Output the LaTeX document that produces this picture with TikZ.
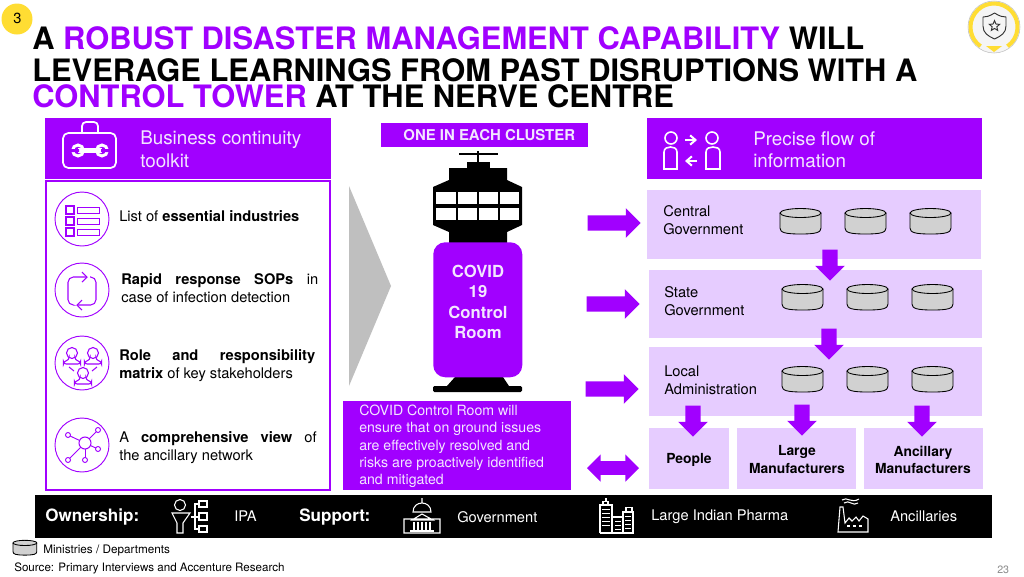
\documentclass[tikz,border=0pt]{standalone}
\usepackage{fontspec}
\setmainfont{TeX Gyre Heros}
\usepackage{tikz}
\usetikzlibrary{arrows.meta,shapes.arrows,shapes.geometric}
\definecolor{acn}{HTML}{A100FF}
\definecolor{acnlight}{HTML}{E6CCFF}
\definecolor{offwhite}{HTML}{F3E6FF}
\definecolor{badgeyellow}{HTML}{FFDD33}
\newcommand{\fsz}[2]{\fontsize{#1}{#2}\selectfont}
\tikzset{
  txt/.style={inner sep=0pt,anchor=base west,font=\fsz{11}{13.5}},
  ttl/.style={inner sep=0pt,anchor=base west,font=\fsz{23.15}{24}\bfseries},
  head/.style={inner sep=0pt,anchor=north west,align=left,text=offwhite,font=\fsz{14.1}{17.2}},
  justtxt/.style={inner sep=0pt,anchor=west,text width=147.75pt,align=justify,font=\fsz{11}{13.5}},
  panel/.style={fill=acnlight,anchor=north west,inner sep=0pt},
  sendbox/.style={fill=acnlight,anchor=north west,inner sep=0pt,align=center,font=\fsz{10.4}{12.8}\bfseries},
  rightblock/.style={single arrow,fill=acn,inner xsep=0pt,inner ysep=5.6pt,single arrow head extend=5.3pt,minimum height=39.75pt,anchor=tip},
  downblock/.style={rightblock,rotate=-90,minimum height=23.25pt},
  bothblock/.style={double arrow,fill=acn,inner xsep=0pt,inner ysep=4.9pt,double arrow head extend=5.2pt,minimum height=39pt},
  iconring/.style={draw=acn,line width=.7pt},
  iconline/.style={draw=acn,line width=.8pt},
  whiteline/.style={draw=white,line width=.8pt},
  dbcyl/.pic={
    \draw[fill=black!18,line width=.65pt] (0,5) -- (0,20) .. controls (0,24.5) and (5,26) .. (20.5,26) .. controls (36,26) and (41,24.5) .. (41,20) -- (41,5);
    \draw[fill=black!18,line width=.65pt] (20.5,5) ellipse [x radius=20.5,y radius=4.5];
  },
  ctrltower/.pic={
    \draw[line width=1.4pt] (459,154) -- (498,154) (478,151) -- (478,162);
    \fill (467,162) rectangle (490,168);
    \fill (449,168) -- (507,168) -- (507,180) -- (522,187) -- (522,225) -- (507,232) -- (507,243) -- (449,243) -- (449,232) -- (433,225) -- (433,187) -- (449,180) -- cycle;
    \foreach \xa/\xb in {436/456,457.5/477,479/498,500/519} {
      \fill[white] (\xa,192) rectangle (\xb,204);
      \fill[white] (\xa,208) rectangle (\xb,220);
    }
    \fill (455,377) -- (503,377) -- (509,386) -- (520,386) [rounded corners=1pt] -- (522,386) -- (522,392) -- (433,392) -- (433,386) [sharp corners] -- (447,386) -- cycle;
  },
  toolicon/.pic={
    \draw[white,line width=1.3pt,rounded corners=4pt] (63,133) rectangle (116,168);
    \draw[white,line width=1.3pt,rounded corners=3pt] (82,133) -- (82,122) -- (98,122) -- (98,133);
    \fill[white] (78,148) rectangle (102,153);
    \draw[white,line width=2.2pt] (78,150.5) circle [radius=5.5] (102,150.5) circle [radius=5.5];
    \fill[acn] (69,149) rectangle (79,152) (101,149) rectangle (111,152);
  },
  listicon/.pic={
    \foreach \yy in {206,217,228} {
      \draw[iconline] (66,\yy) rectangle (74,\yy+8);
      \draw[iconline,line width=.7pt] (77,\yy+1) rectangle (99,\yy+7);
    }
  },
  cycleicon/.pic={
    \draw[iconline,rounded corners=4pt] (86,277) -- (68,277) -- (68,305) -- (73,305);
    \draw[iconline,rounded corners=4pt] (78,305) -- (96,305) -- (96,277) -- (90,277);
    \draw[iconline] (82,272) -- (87,277) -- (82,282);
    \draw[iconline] (82,300) -- (77,305) -- (82,310);
  },
  peopleicon/.pic={
    \foreach \hx/\hy in {72/353,93/353,83/373} {
      \draw[iconline] (\hx,\hy) circle [radius=5.5];
      \draw[iconline,rounded corners=2pt] (\hx-3,\hy+5) -- (\hx-3,\hy+7) -- (\hx-8.5,\hy+8.5) -- (\hx-8.5,\hy+11) -- (\hx+8.5,\hy+11) -- (\hx+8.5,\hy+8.5) -- (\hx+3,\hy+7) -- (\hx+3,\hy+5);
    }
    \draw[iconline] (69,367) -- (74,371) (97,367) -- (92,371);
  },
  neticon/.pic={
    \foreach \nx/\ny in {68/435,98/430,98/449,85/460,68/460} {
      \draw[iconline,line width=.7pt] (85,443) -- (\nx,\ny);
      \draw[iconline,fill=white,line width=.7pt] (\nx,\ny) circle [radius=2.5];
    }
    \draw[iconline,fill=white] (85,443) circle [radius=6];
  },
  flowicon/.pic={
    \draw[white,line width=1.2pt] (671,138) circle [radius=6] (712,138) circle [radius=6];
    \draw[white,line width=1.2pt] (664,169) -- (664,152) .. controls (664,148) and (668,147) .. (670.5,147) .. controls (673,147) and (677,148) .. (677,152) -- (677,169) -- cycle;
    \draw[white,line width=1.2pt] (706,169) -- (706,152) .. controls (706,148) and (710,147) .. (713,147) .. controls (716,147) and (720,148) .. (720,152) -- (720,169) -- cycle;
    \draw[white,line width=1.5pt,-{Straight Barb[length=4pt,width=7pt]}] (685,140) -- (697,140);
    \draw[white,line width=1.5pt,-{Straight Barb[length=4pt,width=7pt]}] (697,161) -- (685,161);
  },
  orgicon/.pic={
    \draw[whiteline] (180,505) circle [radius=5.5];
    \draw[whiteline] (172,513) -- (190,513) -- (183,523) -- (183,533) -- (177,533) -- (177,523) -- cycle;
    \draw[whiteline] (199,501) rectangle (207,507) (199,513) rectangle (207,520) (199,526) rectangle (207,532);
    \draw[whiteline] (199,504) -- (195,504) -- (195,529) -- (199,529) (191,517) -- (199,517);
  },
  domeicon/.pic={
    \draw[whiteline] (422,498) -- (422,503) (413,512) .. controls (413,500) and (431,500) .. (431,512) -- cycle;
    \draw[whiteline] (404,519) rectangle (440,533) (412,520) -- (422,514) -- (433,520) -- cycle;
    \foreach \cx in {414,418,422,426,430} \draw[whiteline] (\cx,522) -- (\cx,530);
    \draw[whiteline] (410,531) -- (434,531);
  },
  bldgicon/.pic={
    \draw[whiteline] (600,533) -- (600,505) -- (612,505) -- (612,533) (603,505) -- (603,501.5) -- (608,501.5) -- (608,505) (606,501) -- (606,498);
    \draw[whiteline] (612,517) -- (623,517) (623,533) -- (623,512) -- (633,512) -- (633,533) -- cycle (626,512) -- (626,507.5) -- (632,507.5) -- (632,512);
    \foreach \wy in {509,513,517,521,525} \draw[whiteline,line width=.6pt] (602,\wy) -- (610,\wy);
    \foreach \wy in {516,520,524,528} \draw[whiteline,line width=.6pt] (625,\wy) -- (631,\wy);
    \foreach \wy in {521,525,529} \draw[whiteline,line width=.6pt] (615,\wy) -- (621,\wy);
    \draw[whiteline] (600,533) -- (633,533) (612,517) -- (612,533);
  },
  facticon/.pic={
    \draw[whiteline] (838,532) -- (840,507) -- (843,507) -- (845,523) -- (849,518) -- (852,521) -- (856,517) -- (859,521) -- (863,516) -- (868,519) -- (868,532) -- cycle;
    \draw[whiteline] (842,500) .. controls (847,496) and (851,504) .. (859,499);
    \draw[whiteline] (844,503) .. controls (849,499) and (853,507) .. (858,503);
    \foreach \dx in {847,853,859} \draw[whiteline,line width=.9pt] (\dx,526) -- (\dx+2.5,526);
  },
}
\begin{document}
\begin{tikzpicture}[x=0.75pt,y=-0.75pt]
\useasboundingbox (0,0) rectangle (1024,576);
\fill[white] (0,0) rectangle (1024,576);

\fill[badgeyellow] (17,19) circle [radius=15.5];
\node[txt,font=\fsz{11}{13}] (pagenum) at (13,23.5) {3};

\fill[black!4] (994,27) circle [radius=26];
\draw[black!25,line width=.4pt] (994,27) circle [radius=26];
\draw[badgeyellow,line width=3pt] (994,27) ++(125:23.5) arc [start angle=125,end angle=415,radius=23.5];
\fill[badgeyellow] (986,46) -- (1002,46) -- (994,52) -- cycle;
\draw[black!80,line width=.7pt,line join=round] (994.5,13) .. controls (989,16.5) and (986,17) .. (983,17) -- (983,26) .. controls (983,33) and (988,36) .. (994.5,39) .. controls (1001,36) and (1006,33) .. (1006,26) -- (1006,17) .. controls (1003,17) and (1000,16.5) .. (994.5,13) -- cycle;
\node[star,star points=5,star point ratio=2.2,draw=black!80,line width=.7pt,inner sep=1.3pt] (badgestar) at (994.5,26) {};

\node[ttl] (titlea) at (32,49) {A \textcolor{acn}{ROBUST DISASTER MANAGEMENT CAPABILITY} WILL};
\node[ttl] (titleb) at (32,81) {LEVERAGE LEARNINGS FROM PAST DISRUPTIONS WITH A};
\node[ttl] (titlec) at (32,107) {\textcolor{acn}{CONTROL TOWER} AT THE NERVE CENTRE};

\fill[acn] (45,118) rectangle (331,179);
\pic at (0,0) {toolicon};
\node[head] (toolkit) at (140,131) {Business continuity\\toolkit};
\draw[acn,line width=1.7pt] (46,181) rectangle (330,490);

\foreach \cy in {219,290,363,445} \draw[iconring] (82,\cy) circle [radius=27];
\pic at (0,0) {listicon};
\pic at (0,0) {cycleicon};
\pic at (0,0) {peopleicon};
\pic at (0,0) {neticon};

\node[txt] (essential) at (119,221) {List of \textbf{essential industries}};
\node[justtxt] (rapid) at (121,288) {\textbf{Rapid response SOPs} in\linebreak case of infection detection};
\node[justtxt,text width=147pt] (role) at (119,365.5) {\textbf{Role and responsibility}\linebreak \textbf{matrix} of key stakeholders};
\node[justtxt,text width=148pt] (ancnet) at (119,448) {A \textbf{comprehensive view} of\linebreak the ancillary network};

\fill[black!25] (349,186) -- (391,286) -- (349,386) -- cycle;

\node[fill=acn,anchor=north west,minimum width=155.25pt,minimum height=18pt,inner sep=0pt,text=offwhite,font=\fsz{11.2}{13}\bfseries] (cluster) at (381,123) {\hspace*{6.75pt}ONE IN EACH CLUSTER};

\pic at (0,0) {ctrltower};
\node[fill=acn,rounded corners=9pt,anchor=north west,minimum width=66.75pt,minimum height=101.25pt,inner sep=0pt] (room) at (433,242) {};
\node[inner sep=0pt,align=center,text=offwhite,font=\fsz{12.5}{15.4}\bfseries] (roomtxt) at (478,302) {COVID\\19\\Control\\Room};

\fill[acn] (343,401) rectangle (571,490);
\node[inner sep=0pt,anchor=north west,align=left,text=offwhite,font=\fsz{10.6}{13}] (note) at (359,404.5) {COVID Control Room will\\ensure that on ground issues\\are effectively resolved and\\risks are proactively identified\\and mitigated};

\node[rightblock] (arrowa) at (641,223) {};
\node[rightblock] (arrowb) at (640,304) {};
\node[rightblock] (arrowc) at (639,389) {};
\node[bothblock] (arrowd) at (613,468) {};

\fill[acn] (647,118) rectangle (982,179);
\pic at (0,0) {flowicon};
\node[head] (precise) at (753,131) {Precise flow of\\information};

\node[panel,minimum width=250.5pt,minimum height=51.75pt] (central) at (647,190) {};
\node[panel,minimum width=249.75pt,minimum height=51pt] (state) at (649,270) {};
\node[panel,minimum width=249.75pt,minimum height=51.75pt] (local) at (649,347) {};

\node[txt,anchor=north west,align=left] (centraltxt) at (663,205) {Central\\Government};
\node[txt,anchor=north west,align=left] (statetxt) at (664,286) {State\\Government};
\node[txt,anchor=north west,align=left] (localtxt) at (664,366) {Local\\Administration};

\foreach \cx in {780,845,910} \pic at (\cx,208) {dbcyl};
\foreach \cx in {782,847,912} \pic at (\cx,284) {dbcyl};
\foreach \cx in {782,847,912} \pic at (\cx,366) {dbcyl};

\node[panel,minimum width=60pt,minimum height=45.75pt] (people) at (649,428) {};
\node[panel,minimum width=89.25pt,minimum height=45.75pt] (largebox) at (737,428) {};
\node[panel,minimum width=89.25pt,minimum height=45.75pt] (ancbox) at (864,428) {};
\node[sendbox,anchor=center] (peopletxt) at (689,460) {People};
\node[sendbox,anchor=center] (largemfg) at (797,459.5) {Large\\Manufacturers};
\node[sendbox,anchor=center] (ancmfg) at (923,459.5) {Ancillary\\Manufacturers};

\node[downblock] (downa) at (830,281) {};
\node[downblock] (downb) at (829,360) {};
\node[downblock] (downc) at (693,437) {};
\node[downblock] (downd) at (802,436) {};
\node[downblock] (downe) at (922,437) {};

\fill (35,495) rectangle (992,538);
\pic at (0,0) {orgicon};
\pic at (0,0) {domeicon};
\pic at (0,0) {bldgicon};
\pic at (0,0) {facticon};
\node[txt,text=white,font=\fsz{12.8}{14}\bfseries] (ownership) at (45,521) {Ownership:};
\node[txt,text=white] (ipa) at (234,521) {IPA};
\node[txt,text=white,font=\fsz{12.8}{14}\bfseries] (support) at (299,521) {Support:};
\node[txt,text=white] (govt) at (457,522) {Government};
\node[txt,text=white] (pharma) at (651,520) {Large Indian Pharma};
\node[txt,text=white] (ancil) at (890,521) {Ancillaries};

\pic[scale=.58] at (13,540) {dbcyl};
\node[txt,font=\fsz{8.8}{11}] (ministries) at (43,553) {Ministries / Departments};
\node[txt,font=\fsz{8.7}{11}] (source) at (14,571) {Source: Primary Interviews and Accenture Research};
\node[txt,text=black!45,font=\fsz{8}{10}] (slideno) at (997,573) {23};
\end{tikzpicture}
\end{document}
